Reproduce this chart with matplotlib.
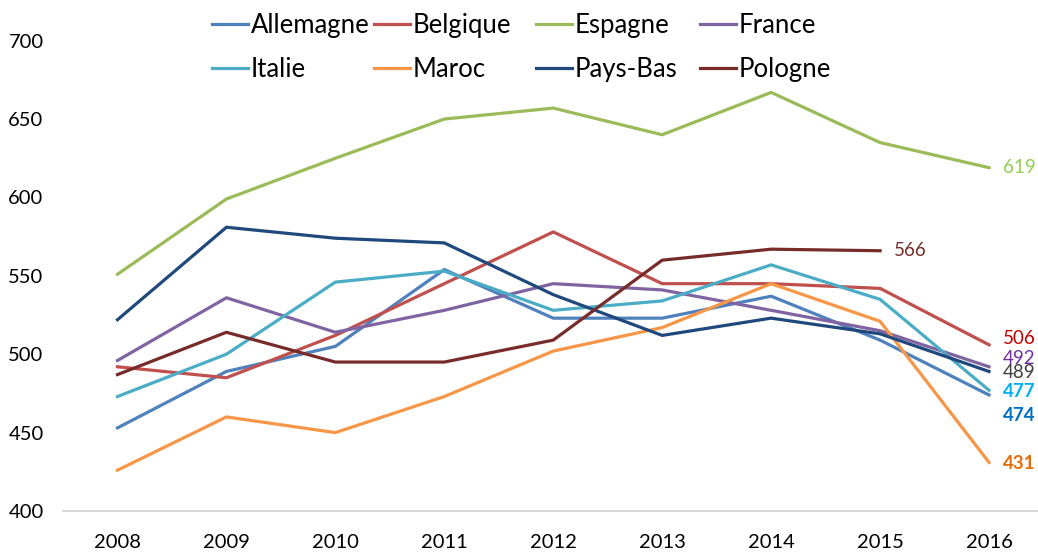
#!/usr/bin/env python
# -*- coding:UTF-8 -*-

import numpy as np
import matplotlib
matplotlib.use('Agg')
import matplotlib.pyplot as plt


years=['2008','2009','2010','2011','2012','2013','2014','2015','2016']
countries=['Allemagne','Belgique','Espagne','France','Italie','Maroc','Pays-Bas','Pologne']

allemagne=[453,489,505,554,523,523,537,509,474]
belgique=[492,485,512,545,578,545,545,542,506]
espagne=[551,599,625,650,657,640,667,635,619]
france=[496,536,514,528,545,541,528,515,492]
italie=[473,500,546,553,528,534,557,535,477]
maroc=[426,460,450,473,502,517,545,521,431]
paysBas=[522,581,574,571,538,512,523,513,489]
pologne=[487,514,495,495,509,560,567,566,np.nan]

yTicks=[400,450,500,550,600,650,700]

lineColors=['#4F81BD','#C0504D','#9BBB59','#8064A2','#4BACC6','#F79646','#1F497D','#772C2A']
# end label style: (colour, bold, vertical offset in points)
labelStyle={
	'Allemagne':('#0070C0','bold',-14.5),
	'Belgique':('#C00000','normal',4.5),
	'Espagne':('#92D050','normal',0),
	'France':('#7030A0','normal',6),
	'Italie':('#00B0F0','bold',-1),
	'Maroc':('#E46C0A','bold',-1),
	'Pays-Bas':('#404040','normal',-1),
	'Pologne':('#772C2A','normal',0),
}


def plot_scores(output,fontName='Lato'):
	series=[allemagne,belgique,espagne,france,italie,maroc,paysBas,pologne]
	plt.rcParams['font.family']=[fontName,'DejaVu Sans']
	fig=plt.figure(figsize=(10.38,5.52),dpi=100)
	ax=fig.add_axes([0.0607,0.0743,0.9446,0.852])
	x=np.arange(len(years))
	lines=[]
	for name,values,color in zip(countries,series,lineColors):
		l,=ax.plot(x,values,color=color,lw=2.3,solid_joinstyle='miter',label=name,clip_on=False)
		lines.append(l)
		vals=np.array(values,dtype=float)
		last=np.where(~np.isnan(vals))[0][-1]
		c,w,dy=labelStyle[name]
		ax.annotate(str(int(vals[last])),xy=(x[last],vals[last]),xytext=(10,dy),textcoords='offset points',
			ha='left',va='center',color=c,fontsize=13.5,fontweight=w,annotation_clip=False)
	ax.set_xlim(-0.5,len(years)-0.5)
	ax.set_ylim(400,700)
	ax.set_xticks(x)
	ax.set_xticklabels(years)
	ax.set_yticks(yTicks)
	for s in ['top','right','left']:
		ax.spines[s].set_visible(False)
	ax.spines['bottom'].set_color('#D9D9D9')
	ax.spines['bottom'].set_linewidth(1.5)
	ax.tick_params(axis='both',length=0,labelsize=14.5,colors='black')
	ax.tick_params(axis='x',pad=16.5)
	ax.tick_params(axis='y',pad=14)
	# legend: 4 equal columns of 2 rows
	colX=[212,374,536,700]
	for j in range(4):
		leg=fig.legend([lines[j],lines[j+4]],[countries[j],countries[j+4]],loc='center left',
			bbox_to_anchor=(colX[j]/1038.0,1-47.5/552.0),frameon=False,fontsize=18.5,
			handlelength=1.4,handletextpad=0.12,labelspacing=0.72,borderpad=0,borderaxespad=0)
	fig.savefig(output,dpi=100)
	plt.close()


def main():
	plot_scores('out.png')

if __name__=="__main__":
	main()
